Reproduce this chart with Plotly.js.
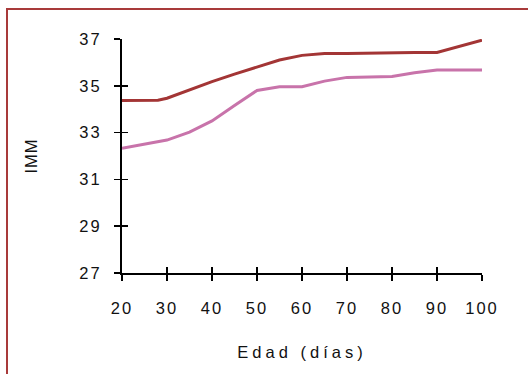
<!DOCTYPE html>
<html>
<head>
<meta charset="utf-8">
<script src="https://cdn.plot.ly/plotly-3.0.1.min.js"></script>
<style>
  html, body { margin: 0; padding: 0; background: #fff; }
  #wrap { position: relative; width: 528px; height: 374px; overflow: hidden; }
  #chart { width: 528px; height: 374px; }
  #frame { position: absolute; left: 6px; top: 8px; width: 600px; height: 500px;
           border-left: 2px solid #a83a3a; border-top: 2px solid #a83a3a; pointer-events: none; }
  #chart .xtick text, #chart .ytick text { letter-spacing: 2px; }
  #chart .xtitle { letter-spacing: 4px; }
  #chart .ytitle { letter-spacing: 1px; }
</style>
</head>
<body>
<div id="wrap">
  <div id="chart"></div>
  <div id="frame"></div>
</div>
<script>
// Edad (días)
const edad = [20, 25, 28, 30, 35, 40, 45, 50, 55, 60, 65, 70, 75, 80, 85, 90, 95, 100];
// IMM series
const serieOscura = [34.37, 34.37, 34.38, 34.47, 34.83, 35.18, 35.5, 35.79, 36.1, 36.3, 36.38, 36.38, 36.4, 36.42, 36.42, 36.42, 36.68, 36.95];
const serieRosa   = [32.33, 32.5, 32.6, 32.68, 33.02, 33.5, 34.16, 34.8, 34.96, 34.96, 35.2, 35.36, 35.38, 35.4, 35.56, 35.68, 35.68, 35.68];
const yTicks = [27, 29, 31, 33, 35, 37];
const xTicks = [20, 30, 40, 50, 60, 70, 80, 90, 100];

const fam = 'Liberation Sans, Arial, sans-serif';
const tf = {family: fam, size: 16.5, color: '#111'};

const traces = [
  {x: edad, y: serieOscura, type: 'scatter', mode: 'lines',
   line: {color: '#a33535', width: 3}, hoverinfo: 'skip', showlegend: false},
  {x: edad, y: serieRosa, type: 'scatter', mode: 'lines', xaxis: 'x2', yaxis: 'y2',
   line: {color: '#c873aa', width: 3}, hoverinfo: 'skip', showlegend: false}
];

const axBase = {
  showgrid: false, zeroline: false, tickcolor: '#000', tickwidth: 1.7, ticklen: 6
};

const layout = {
  width: 528, height: 374,
  margin: {l: 122, r: 46, t: 39, b: 101},
  paper_bgcolor: '#fff', plot_bgcolor: '#fff',
  font: tf,
  showlegend: false,
  xaxis: Object.assign({}, axBase, {
    range: [20, 100], tickvals: xTicks, ticktext: xTicks.map(String),
    ticks: 'outside', showline: true, linecolor: '#000', linewidth: 2,
    ticklabelstandoff: 13, tickfont: tf,
    title: {text: 'Edad (días)', font: tf, standoff: 31}
  }),
  yaxis: Object.assign({}, axBase, {
    range: [27, 37], tickvals: yTicks, ticktext: yTicks.map(String),
    ticks: 'outside', showline: true, linecolor: '#000', linewidth: 2,
    ticklabelstandoff: 9, tickfont: tf,
    title: {text: 'IMM', font: tf, standoff: 42}
  }),
  xaxis2: Object.assign({}, axBase, {
    range: [20, 100], tickvals: xTicks, overlaying: 'x', anchor: 'y2', side: 'bottom',
    ticks: 'inside', showline: false, showticklabels: false
  }),
  yaxis2: Object.assign({}, axBase, {
    range: [27, 37], tickvals: yTicks, overlaying: 'y', anchor: 'x2', side: 'left',
    ticks: 'inside', showline: false, showticklabels: false
  })
};

Plotly.newPlot('chart', traces, layout, {staticPlot: true, displayModeBar: false});
</script>
</body>
</html>
